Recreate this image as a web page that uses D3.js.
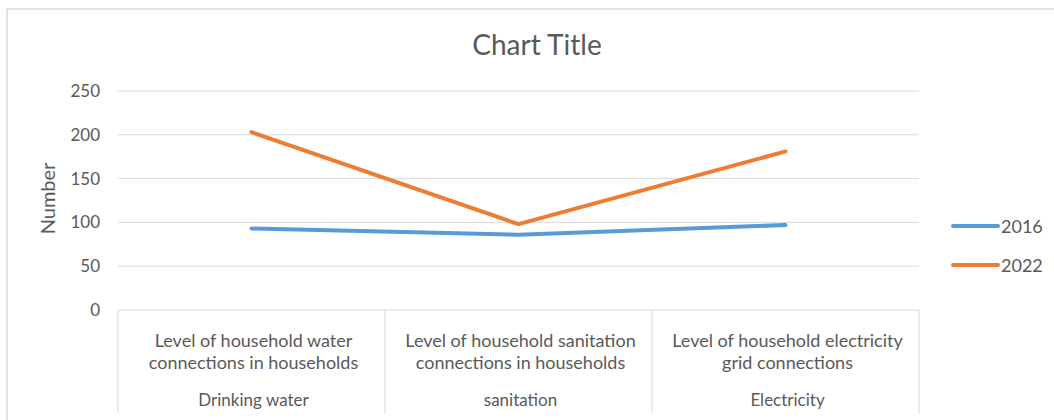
<!DOCTYPE html>
<html>
<head>
<meta charset="utf-8">
<script src="https://cdn.jsdelivr.net/npm/d3@7"></script>
<style>
  body { margin: 0; background: #fff; }
  text { font-family: Lato, "Open Sans", sans-serif; fill: #595959; }
</style>
</head>
<body>
<div id="chart"></div>
<script>
/* DATA */
const categories = ["Drinking water", "sanitation", "Electricity"];
const subLabels = [
  ["Level of household water", "connections in households"],
  ["Level of household sanitation", "connections in households"],
  ["Level of household electricity", "grid connections"]
];
const values2016 = [93, 86, 97];
const values2022 = [203, 98, 181];
const yTicks = [0, 50, 100, 150, 200, 250];

const series = [
  { name: "2016", values: values2016, color: "#5B9BD5" },
  { name: "2022", values: values2022, color: "#ED7D31" }
];

/* CONSTANTS */
const width = 1054,
  height = 420,
  margin = { top: 91, bottom: 110, left: 118, right: 135 };

const svg = d3.select("#chart")
  .append("svg")
  .attr("width", width)
  .attr("height", height);

// chart area border (runs off the page on right and bottom)
svg.append("rect")
  .attr("x", 7)
  .attr("y", 9)
  .attr("width", 1100)
  .attr("height", 500)
  .attr("fill", "none")
  .attr("stroke", "#d9d9d9")
  .attr("stroke-width", 1.5);

/* SCALES */
const xScale = d3.scaleBand()
  .domain(categories)
  .range([margin.left, width - margin.right])
  .padding(0);

const yScale = d3.scaleLinear()
  .domain([0, 250])
  .range([height - margin.bottom, margin.top]);

// title
svg.append("text")
  .attr("x", 537)
  .attr("y", 55)
  .attr("text-anchor", "middle")
  .attr("font-size", 28)
  .text("Chart Title");

// gridlines
svg.append("g")
  .selectAll("line")
  .data(yTicks.filter(d => d > 0))
  .join("line")
  .attr("x1", margin.left)
  .attr("x2", width - margin.right)
  .attr("y1", d => yScale(d))
  .attr("y2", d => yScale(d))
  .attr("stroke", "#d9d9d9")
  .attr("stroke-width", 1);

// y axis labels
const yAxis = d3.axisLeft(yScale).tickValues(yTicks).tickSize(0).tickPadding(18);
svg.append("g")
  .attr("transform", `translate(${margin.left},0)`)
  .call(yAxis)
  .call(g => g.select(".domain").remove())
  .selectAll("text")
  .attr("font-size", 17)
  .attr("font-family", "Lato, sans-serif")
  .attr("fill", "#595959");

svg.append("text")
  .attr("transform", `translate(55,${yScale(125) - 2}) rotate(-90)`)
  .attr("text-anchor", "middle")
  .attr("font-size", 20)
  .text("Number");

// multi-level category axis
const axisTop = yScale(0),
  axisBottom = 413;
const xAxisG = svg.append("g");
xAxisG.append("line")
  .attr("x1", margin.left)
  .attr("x2", width - margin.right)
  .attr("y1", axisTop)
  .attr("y2", axisTop)
  .attr("stroke", "#d9d9d9");

const edges = categories.map(c => xScale(c)).concat([xScale.range()[1]]);
xAxisG.selectAll(".divider")
  .data(edges)
  .join("line")
  .attr("class", "divider")
  .attr("x1", d => d)
  .attr("x2", d => d)
  .attr("y1", axisTop)
  .attr("y2", axisBottom)
  .attr("stroke", "#d9d9d9");

const catG = xAxisG.selectAll(".cat")
  .data(categories)
  .join("g")
  .attr("class", "cat")
  .attr("transform", d => `translate(${xScale(d) + xScale.bandwidth() / 2 + 2},0)`);

catG.selectAll(".sub")
  .data((d, i) => subLabels[i])
  .join("text")
  .attr("class", "sub")
  .attr("y", (d, i) => 347 + i * 22)
  .attr("text-anchor", "middle")
  .attr("font-size", 18)
  .text(d => d);

catG.append("text")
  .attr("y", 406)
  .attr("text-anchor", "middle")
  .attr("font-size", 17)
  .text(d => d);

// lines
const line = d3.line()
  .x((d, i) => xScale(categories[i]) + xScale.bandwidth() / 2)
  .y(d => yScale(d));

svg.append("g")
  .selectAll("path")
  .data(series)
  .join("path")
  .attr("d", d => line(d.values))
  .attr("fill", "none")
  .attr("stroke", d => d.color)
  .attr("stroke-width", 4)
  .attr("stroke-linecap", "round")
  .attr("stroke-linejoin", "round");

// legend
const legend = svg.append("g")
  .selectAll("g")
  .data(series)
  .join("g")
  .attr("transform", (d, i) => `translate(953,${226 + i * 39})`);

legend.append("line")
  .attr("x1", 0)
  .attr("x2", 45)
  .attr("stroke", d => d.color)
  .attr("stroke-width", 4)
  .attr("stroke-linecap", "round");

legend.append("text")
  .attr("x", 48)
  .attr("y", 6.5)
  .attr("font-size", 18)
  .text(d => d.name);
</script>
</body>
</html>
